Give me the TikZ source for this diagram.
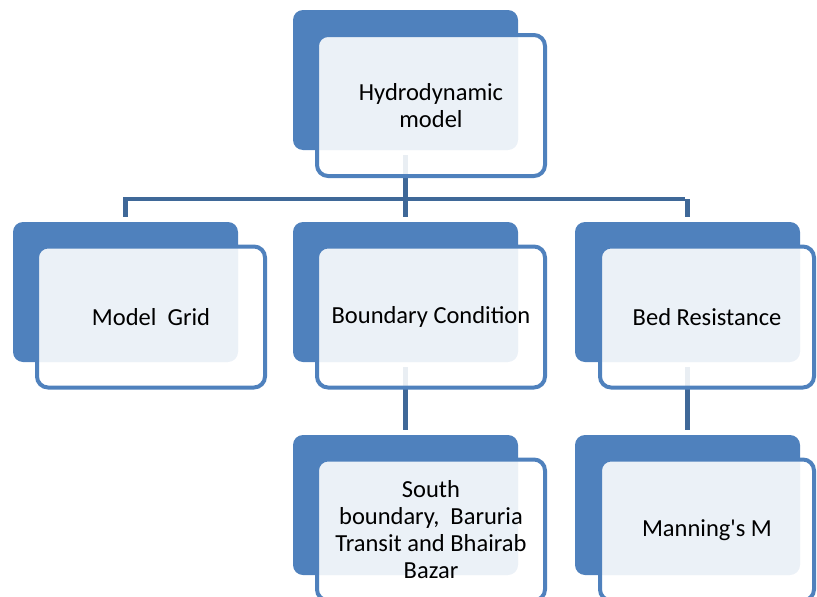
\documentclass[tikz,border=0pt]{standalone}
\usepackage{fontspec}
\setmainfont{Carlito}
\usetikzlibrary{positioning}
\definecolor{deep}{HTML}{4F81BD}
\definecolor{wire}{HTML}{3F6898}

\begin{document}
\begin{tikzpicture}[x=1pt,y=-1pt,every node/.style={font=\fontsize{24.5}{27}\selectfont},
 back/.style={fill=deep,rounded corners=10pt,minimum width=225pt,minimum height=140pt,inner sep=0pt},
 front/.style={draw=deep,line width=4pt,fill=white,fill opacity=0.89,text opacity=1,rounded corners=11pt,minimum width=228pt,minimum height=141pt,align=center,inner sep=0pt},
 link/.style={wire,line width=4.5pt,shorten <=5pt,shorten >=5pt}]
\clip (0,0) rectangle (817,597);
% back plates
\node[back](hydroB) at (405.5,80){};
\node[back](gridB) at (125.5,292){};
\node[back](bcB) at (405.5,292){};
\node[back](bedB) at (687.5,292){};
\node[back](southB) at (405.5,505){};
\node[back](manB) at (687.5,505){};
% connectors
\coordinate (bus) at (0,199);
\draw[link,shorten >=0pt](hydroB.south)--(hydroB.south |- bus);
\draw[link,shorten <=0pt,line cap=rect,line join=miter](gridB.north |- bus)--(bedB.north |- bus);
\foreach \x in {gridB,bcB,bedB}{\draw[link,shorten <=0pt](\x.north |- bus)--(\x.north);}
\foreach \x/\y in {bcB/southB,bedB/manB}{\draw[link](\x.south)--(\y.north);}
% front cards
\node[front](hydro) at (431,105.5){Hydrodynamic\\model};
\node[front](grid) at (151,317){Model~~Grid};
\node[front](bc) at (431,317){Boundary Condition};
\node[front,minimum width=214pt](bed) at (707,317){Bed Resistance};
\node[front](south) at (431,530){South\\boundary,~~Baruria\\Transit and Bhairab\\Bazar};
\node[front,minimum width=214pt](man) at (707,530){Manning\textquotesingle s M};
\end{tikzpicture}
\end{document}
